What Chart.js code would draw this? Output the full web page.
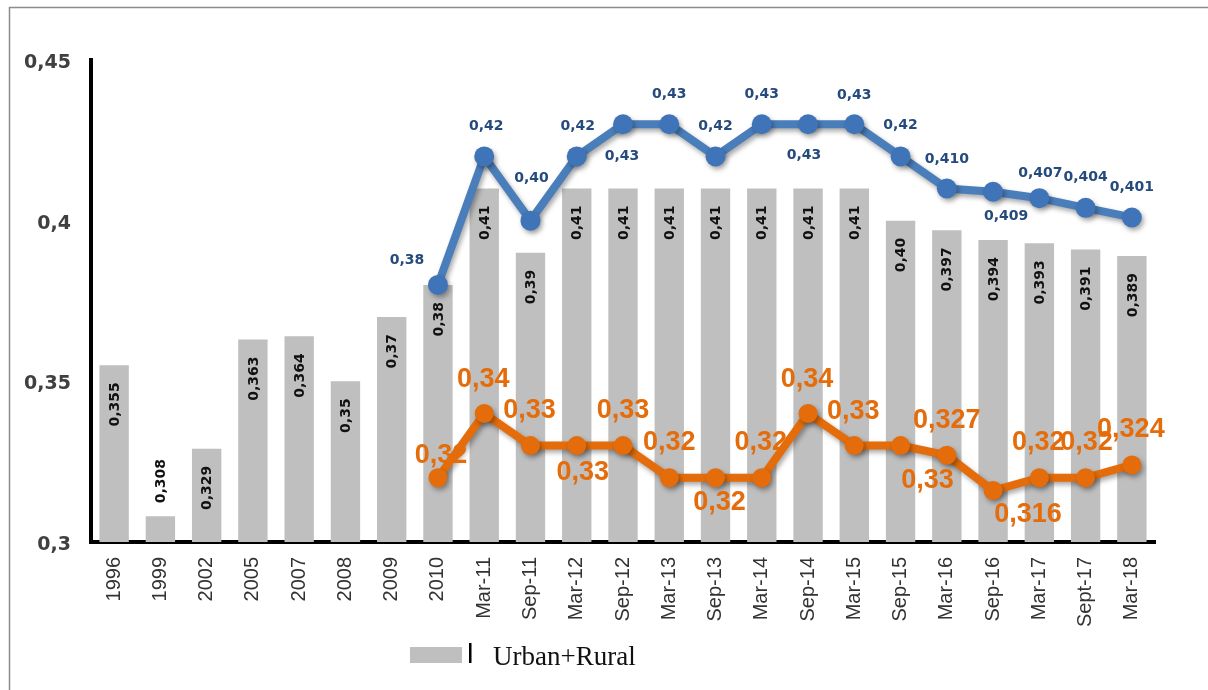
<!DOCTYPE html>
<html>
<head>
<meta charset="utf-8">
<script src="https://cdn.jsdelivr.net/npm/chart.js@4/dist/chart.umd.min.js"></script>
<style>
html,body{margin:0;padding:0;background:#fff;overflow:hidden;}
#wrap{position:relative;width:1208px;height:690px;}
</style>
</head>
<body>
<div id="wrap"><canvas id="c" width="1208" height="690"></canvas></div>
<script>
// ---- data ----
const categories = ['1996','1999','2002','2005','2007','2008','2009','2010','Mar-11','Sep-11','Mar-12','Sep-12','Mar-13','Sep-13','Mar-14','Sep-14','Mar-15','Sep-15','Mar-16','Sep-16','Mar-17','Sept-17','Mar-18'];
const urbanRural = [0.355,0.308,0.329,0.363,0.364,0.35,0.37,0.38,0.41,0.39,0.41,0.41,0.41,0.41,0.41,0.41,0.41,0.40,0.397,0.394,0.393,0.391,0.389];
const urbanRuralLabels = ['0,355','0,308','0,329','0,363','0,364','0,35','0,37','0,38','0,41','0,39','0,41','0,41','0,41','0,41','0,41','0,41','0,41','0,40','0,397','0,394','0,393','0,391','0,389'];
const urban = [null,null,null,null,null,null,null,0.38,0.42,0.40,0.42,0.43,0.43,0.42,0.43,0.43,0.43,0.42,0.410,0.409,0.407,0.404,0.401];
const urbanLabels = [null,null,null,null,null,null,null,'0,38','0,42','0,40','0,42','0,43','0,43','0,42','0,43','0,43','0,43','0,42','0,410','0,409','0,407','0,404','0,401'];
const rural = [null,null,null,null,null,null,null,0.32,0.34,0.33,0.33,0.33,0.32,0.32,0.32,0.34,0.33,0.33,0.327,0.316,0.32,0.32,0.324];
const ruralLabels = [null,null,null,null,null,null,null,'0,32','0,34','0,33','0,33','0,33','0,32','0,32','0,32','0,34','0,33','0,33','0,327','0,316','0,32','0,32','0,324'];
const yTicks = [0.3,0.35,0.4,0.45];

// ---- label placement (offsets of label centre from its point) ----
const urbanLabelOffsets = [null,null,null,null,null,null,null,[-31,-25],[2,-30],[1,-42],[1,-30],[-1,32],[0,-30],[0,-30],[0,-30],[-4,31],[0,-29],[0,-31],[0,-29],[13,25],[1,-25],[0,-30],[0,-30]];
const ruralLabelOffsets = [null,null,null,null,null,null,null,[3,-23],[-1,-35],[-1,-36],[6,26],[0,-36],[0,-36],[4,24],[-1,-36],[-1,-35],[-1,-35],[27,34],[0,-36],[35,23],[-1,-36],[1,-36],[-1,-36]];

const BLUE = '#4A7EBB', BLUE_PT = '#3F74B8', BLUE_TXT = '#254A7C';
const ORANGE = '#E46C0A';
const GREY = '#BFBFBF';

const frame = {
  id: 'frame',
  beforeDraw(chart) {
    const ctx = chart.ctx;
    ctx.save();
    ctx.fillStyle = '#fff';
    ctx.fillRect(0, 0, chart.width, chart.height);
    ctx.strokeStyle = '#8c8c8c';
    ctx.lineWidth = 1.5;
    ctx.strokeRect(9.5, 7.5, 1400, 900);
    ctx.restore();
  }
};

const shadow = {
  id: 'shadow',
  beforeDatasetDraw(chart, args) {
    const ds = chart.data.datasets[args.index];
    if (ds.type === 'line') {
      const ctx = chart.ctx;
      ctx.save();
      ctx.shadowColor = 'rgba(0,0,0,0.35)';
      ctx.shadowBlur = 5;
      ctx.shadowOffsetX = 2;
      ctx.shadowOffsetY = 3;
    }
  },
  afterDatasetDraw(chart, args) {
    const ds = chart.data.datasets[args.index];
    if (ds.type === 'line') chart.ctx.restore();
  }
};

const labels = {
  id: 'labels',
  afterDatasetsDraw(chart) {
    const ctx = chart.ctx;
    const bottom = chart.chartArea.bottom;
    ctx.save();
    // bar labels (rotated)
    const barMeta = chart.getDatasetMeta(2);
    ctx.font = 'bold 14px "DejaVu Sans"';
    ctx.fillStyle = '#111';
    ctx.textBaseline = 'middle';
    barMeta.data.forEach((el, i) => {
      const txt = urbanRuralLabels[i];
      const w = ctx.measureText(txt).width;
      const h = bottom - el.y;
      ctx.save();
      ctx.translate(el.x, el.y);
      ctx.rotate(-Math.PI / 2);
      if (w + 24 < h) {
        ctx.textAlign = 'right';
        ctx.fillText(txt, -17, 1);
      } else {
        ctx.textAlign = 'left';
        ctx.fillText(txt, 13, 1);
      }
      ctx.restore();
    });
    // urban labels
    const uMeta = chart.getDatasetMeta(1);
    ctx.font = 'bold 14px "DejaVu Sans"';
    ctx.fillStyle = BLUE_TXT;
    ctx.textAlign = 'center';
    ctx.textBaseline = 'middle';
    uMeta.data.forEach((el, i) => {
      if (urban[i] == null) return;
      const o = urbanLabelOffsets[i];
      ctx.fillText(urbanLabels[i], el.x + o[0], el.y + o[1]);
    });
    // rural labels
    const rMeta = chart.getDatasetMeta(0);
    ctx.font = 'bold 27px "Liberation Sans"';
    ctx.fillStyle = ORANGE;
    rMeta.data.forEach((el, i) => {
      if (rural[i] == null) return;
      const o = ruralLabelOffsets[i];
      ctx.fillText(ruralLabels[i], el.x + o[0], el.y + o[1] + 1);
    });
    ctx.restore();
  }
};

const legend = {
  id: 'customLegend',
  afterDraw(chart) {
    const ctx = chart.ctx;
    ctx.save();
    ctx.fillStyle = GREY;
    ctx.fillRect(410, 647, 52, 16);
    ctx.fillStyle = '#000';
    ctx.fillRect(469, 643, 2.5, 20);
    ctx.font = '27px "Liberation Serif"';
    ctx.textAlign = 'left';
    ctx.textBaseline = 'middle';
    ctx.fillStyle = '#111';
    ctx.fillText(chart.data.datasets[2].label, 493, 658);
    ctx.restore();
  }
};

new Chart(document.getElementById('c'), {
  type: 'bar',
  data: {
    labels: categories,
    datasets: [
      {
        type: 'line', label: 'Rural', data: rural, order: 0,
        borderColor: ORANGE, backgroundColor: ORANGE,
        pointBackgroundColor: ORANGE, pointBorderColor: ORANGE,
        borderWidth: 8, pointRadius: 9.5, pointBorderWidth: 0,
        tension: 0, spanGaps: false, fill: false
      },
      {
        type: 'line', label: 'Urban', data: urban, order: 1,
        borderColor: BLUE, backgroundColor: BLUE_PT,
        pointBackgroundColor: BLUE_PT, pointBorderColor: BLUE_PT,
        borderWidth: 8, pointRadius: 10, pointBorderWidth: 0,
        tension: 0, spanGaps: false, fill: false
      },
      {
        type: 'bar', label: 'Urban+Rural', data: urbanRural, order: 2,
        backgroundColor: GREY, borderWidth: 0,
        categoryPercentage: 1, barPercentage: 0.635
      }
    ]
  },
  options: {
    responsive: false,
    animation: false,
    devicePixelRatio: 1,
    layout: { padding: { left: 0, top: 60, right: 53, bottom: 0 } },
    plugins: {
      legend: { display: false },
      tooltip: { enabled: false }
    },
    scales: {
      x: {
        offset: true,
        grid: { display: false, drawTicks: false },
        border: { display: true, color: '#000', width: 4 },
        ticks: {
          autoSkip: false, minRotation: 90, maxRotation: 90,
          padding: 15,
          color: '#333',
          font: { family: '"Liberation Sans"', size: 20 }
        },
        afterFit(s) { s.height = 148; }
      },
      y: {
        min: 0.3, max: 0.45,
        afterBuildTicks(s) { s.ticks = yTicks.map(v => ({ value: v })); },
        grid: { display: false, drawTicks: false },
        border: { display: true, color: '#000', width: 4 },
        ticks: {
          padding: 20,
          labelOffset: 3,
          color: '#404040',
          font: { family: '"DejaVu Sans"', size: 19, weight: 'bold' },
          callback: v => String(Math.round(v * 100) / 100).replace('.', ',')
        },
        afterFit(s) { s.width = 91; }
      }
    }
  },
  plugins: [frame, shadow, labels, legend]
});
</script>
</body>
</html>
